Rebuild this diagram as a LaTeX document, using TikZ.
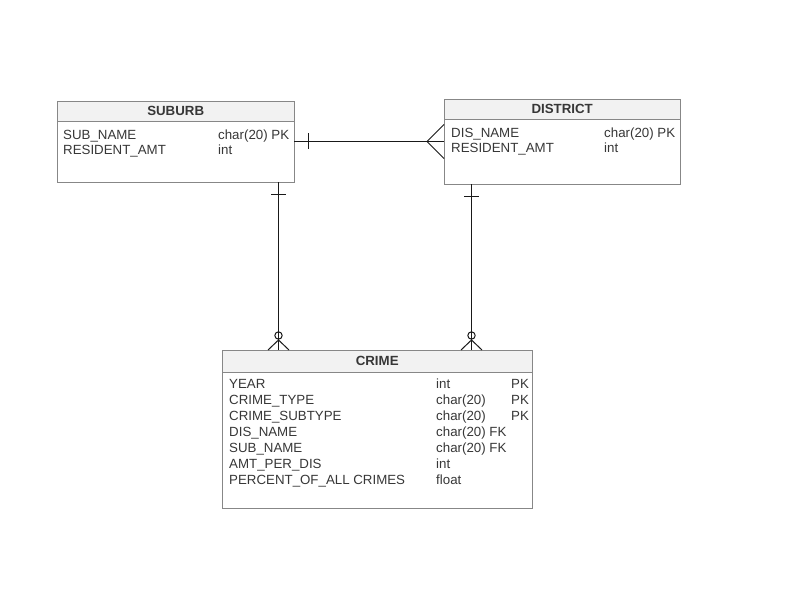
\documentclass[tikz,border=0pt]{standalone}
\usepackage{fontspec}
\setmainfont{Liberation Sans}
\definecolor{boxgray}{RGB}{135,135,135}
\definecolor{headgray}{RGB}{242,242,242}
\definecolor{txtgray}{RGB}{55,55,55}
\tikzset{
	entity/.style={draw=boxgray, fill=white, anchor=north west, inner sep=0pt},
	entityhead/.style={draw=boxgray, fill=headgray, anchor=north west, inner sep=0pt, font=\fontsize{13.3}{16}\selectfont\bfseries, text=txtgray},
	attr/.style={anchor=base west, inner sep=0pt, text=txtgray},
	rel/.style={draw=black!90, line width=1pt}
}

\begin{document}
\begin{tikzpicture}[x=1pt, y=-1pt, font=\fontsize{13.3}{16}\selectfont]
		\useasboundingbox (0,0) rectangle (800,596);
		% tables
		\node[entity, minimum width=237pt, minimum height=81pt] (suburb) at (57,101) {};
		\node[entityhead, minimum width=237pt, minimum height=20pt] (suburb-head) at (57,101) {SUBURB};
		\foreach \fld/\typ [count=\i] in {SUB\_NAME/char(20) PK, RESIDENT\_AMT/int} {
			\node[attr] (suburb-f\i) at (63,125+15*\i) {\fld};
			\node[attr] (suburb-t\i) at (218,125+15*\i) {\typ};
		}
		\node[entity, minimum width=236pt, minimum height=85pt] (district) at (444,99) {};
		\node[entityhead, minimum width=236pt, minimum height=20pt] (district-head) at (444,99) {DISTRICT};
		\foreach \fld/\typ [count=\i] in {DIS\_NAME/char(20) PK, RESIDENT\_AMT/int} {
			\node[attr] (district-f\i) at (451,123+15*\i) {\fld};
			\node[attr] (district-t\i) at (604,123+15*\i) {\typ};
		}
		\node[entity, minimum width=310pt, minimum height=158pt] (crime) at (222,350) {};
		\node[entityhead, minimum width=310pt, minimum height=22pt] (crime-head) at (222,350) {CRIME};
		\foreach \fld/\typ [count=\i] in {YEAR/int, CRIME\_TYPE/char(20), CRIME\_SUBTYPE/char(20), DIS\_NAME/char(20) FK, SUB\_NAME/char(20) FK, AMT\_PER\_DIS/int, PERCENT\_OF\_ALL CRIMES/float} {
			\node[attr] (crime-f\i) at (229,372+16*\i) {\fld};
			\node[attr] (crime-t\i) at (436,372+16*\i) {\typ};
		}
		\foreach \i in {1,2,3}
			\node[attr] (crime-k\i) at (511,372+16*\i) {PK};

		% suburb -- district
		\coordinate (sd-s) at (suburb.east |- 0,141.5);
		\coordinate (sd-d) at (district.west |- 0,141.5);
		\draw[rel] (sd-s) -- (sd-d);
		\draw[rel] (sd-s) ++(14,-8) -- ++(0,16);
		\draw[rel] (sd-d) ++(0,-17) -- ++(-17,17) -- ++(17,17);

		% suburb -- crime, district -- crime
		\foreach \ent/\x in {suburb/278.5, district/471.5} {
			\coordinate (\ent-top) at (\ent.south -| \x,0);
			\coordinate (\ent-bot) at (crime.north -| \x,0);
			\draw[rel] (\ent-top) -- (\ent-bot);
			\draw[rel] (\ent-top) ++(-7.5,12.5) -- ++(15,0);
			\draw[rel] (\ent-bot) ++(-10.5,0) -- ++(10.5,-10) -- ++(10.5,10);
			\draw[rel] (\ent-bot) ++(0,-14.5) circle[radius=3.7pt];
		}
	\end{tikzpicture}
\end{document}
